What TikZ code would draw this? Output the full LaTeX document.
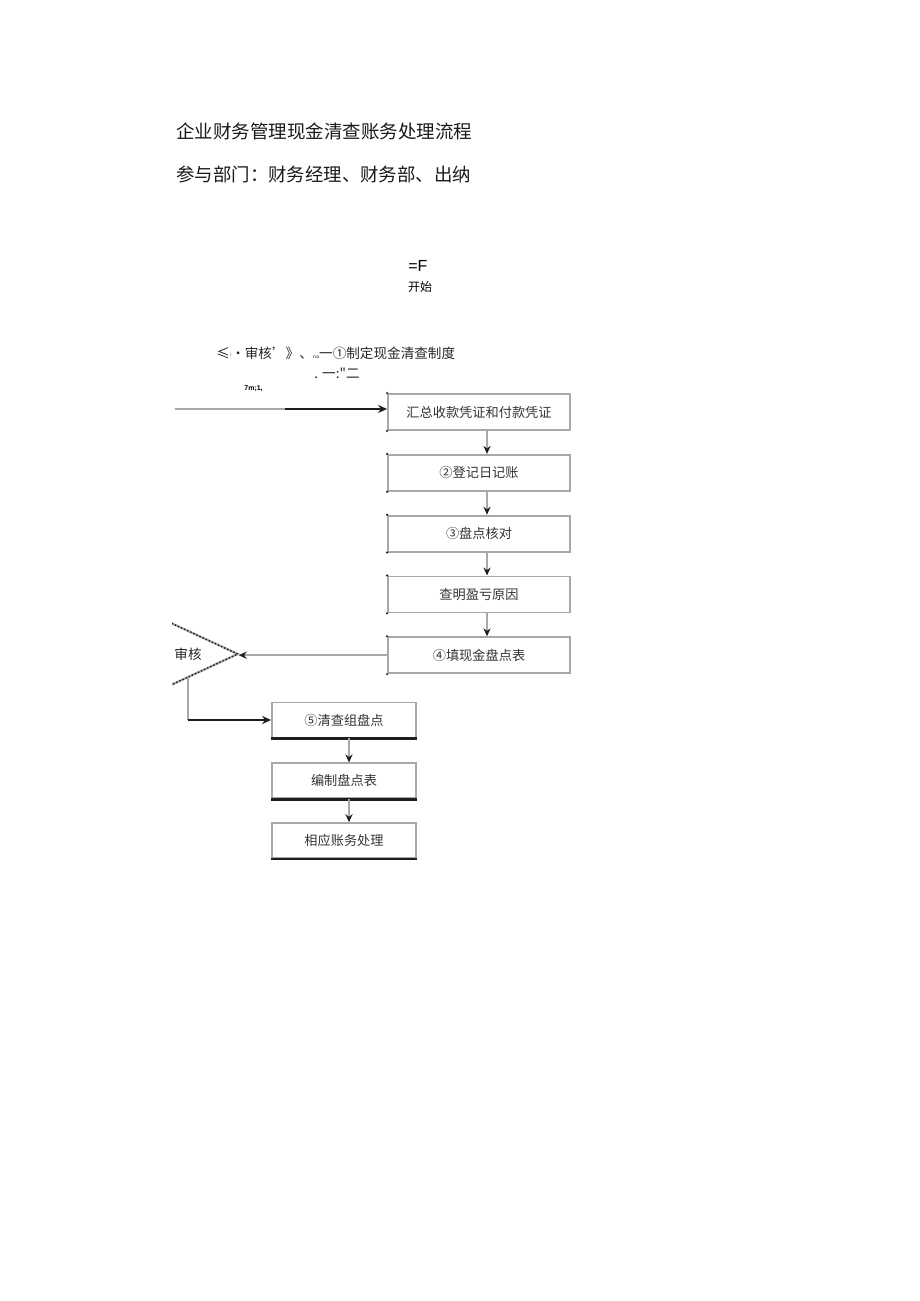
\documentclass[tikz,border=0pt]{standalone}
\usepackage{fontspec}
\usepackage{xcolor}
\usetikzlibrary{arrows.meta,calc,positioning,shapes.geometric}
\newfontfamily\cjk{Noto Sans CJK SC}
\newfontfamily\latsf{Liberation Sans}
\newfontfamily\dejavu{DejaVu Sans}
\definecolor{boxgray}{HTML}{A8A8A8}
\definecolor{inkdark}{HTML}{1E1E1E}
\newcommand{\cjksize}[1]{\cjk\fontsize{#1}{#1}\selectfont}

\begin{document}
\begin{tikzpicture}[x=0.5pt,y=-0.5pt,
  stepbox/.style={draw=boxgray,line width=0.9pt,minimum width=91pt,minimum height=18pt,inner sep=0pt,font=\cjksize{6.6},text=black!80},
  lowbox/.style={stepbox,minimum width=72pt,minimum height=17.5pt},
  flow/.style={draw=boxgray,line width=0.8pt,-{Stealth[length=4pt,width=3.6pt,color=inkdark]}},
  boldflow/.style={draw=inkdark,line width=1.4pt,-{Stealth[length=4.5pt,width=4pt]}},
  plainline/.style={draw=boxgray,line width=1pt},
  check/.style={diamond,draw=inkdark,densely dotted,line width=0.7pt,minimum width=75pt,minimum height=35pt,inner sep=0pt,preaction={draw=boxgray,solid,line width=1.1pt}}]
\useasboundingbox (0,0) rectangle (920,1301);
% heading
\node[anchor=west,inner sep=0pt,font=\cjksize{9.25},text=black!90] (title) at (176,131) {企业财务管理现金清查账务处理流程};
\node[anchor=west,inner sep=0pt,font=\cjksize{9.2},text=black!90] (dept) at (176,174) {参与部门：财务经理、财务部、出纳};
\node[anchor=west,inner sep=0pt,font=\latsf\fontsize{8}{8}\selectfont] (startsym) at (408,266) {=F};
\node[font=\cjksize{6}] (start) at (420,287) {开始};
\node[anchor=west,inner sep=0pt,font=\cjksize{6.8},text=black!85] (auditnote) at (216,353) {≤{\dejavu\fontsize{3.5}{4}\selectfont ⁱ}·审核’》、{\dejavu\fontsize{4}{4}\selectfont ₙₐ}一①制定现金清查制度};
\node[anchor=west,inner sep=0pt,font=\cjksize{6.8},text=black!85] (noteline) at (314,373) {. 一:"二};
\node[anchor=west,inner sep=0pt,font=\latsf\bfseries\fontsize{3.5}{4}\selectfont] (tinymark) at (244,389) {7m;1,};
% main column
\node[stepbox] (b1) at (479,412) {汇总收款凭证和付款凭证};
\node[stepbox,below=11.5pt of b1] (b2) {②登记日记账};
\node[stepbox,below=11.5pt of b2] (b3) {③盘点核对};
\node[stepbox,below=11.5pt of b3] (b4) {查明盈亏原因};
\node[stepbox,below=11.5pt of b4] (b5) {④填现金盘点表};
\foreach \b in {b1,b2,b3,b4,b5}
  \fill[inkdark] (\b.north west) circle (0.6pt) (\b.south west) circle (0.6pt);
% decision, cut at the page edge
\begin{scope}
\clip (172,590) rectangle (320,720);
\node[check] (check) at (163,654) {};
\end{scope}
\node[font=\cjksize{6.8},text=black!85] (checktext) at (188,654) {审核};
% lower column
\node[lowbox] (b6) at (344,720) {⑤清查组盘点};
\node[lowbox,below=12pt of b6] (b7) {编制盘点表};
\node[lowbox,below=11.5pt of b7] (b8) {相应账务处理};
\foreach \b in {b6,b7,b8}
  \draw[inkdark,line width=1.3pt] (\b.south west) -- (\b.south east);
% connectors
\coordinate (feed) at (175,409);
\coordinate (feedmid) at (285,409);
\draw[plainline] (feed) -- (feedmid);
\draw[boldflow] (feedmid) -- (feedmid -| b1.west);
\foreach \a/\b in {b1/b2,b2/b3,b3/b4,b4/b5}
  \draw[flow] ([xshift=4pt]\a.south) -- ([xshift=4pt]\b.north);
\draw[flow] (b5.west) -- (b5.west -| check.east);
\coordinate (checkout) at ($(check.south)!0.33!(check.east)$);
\coordinate (turn) at (checkout |- b6.west);
\draw[plainline] (checkout) -- (turn);
\draw[boldflow] (turn) -- (b6.west);
\foreach \a/\b in {b6/b7,b7/b8}
  \draw[flow] ([xshift=2.5pt]\a.south) -- ([xshift=2.5pt]\b.north);
\end{tikzpicture}
\end{document}
